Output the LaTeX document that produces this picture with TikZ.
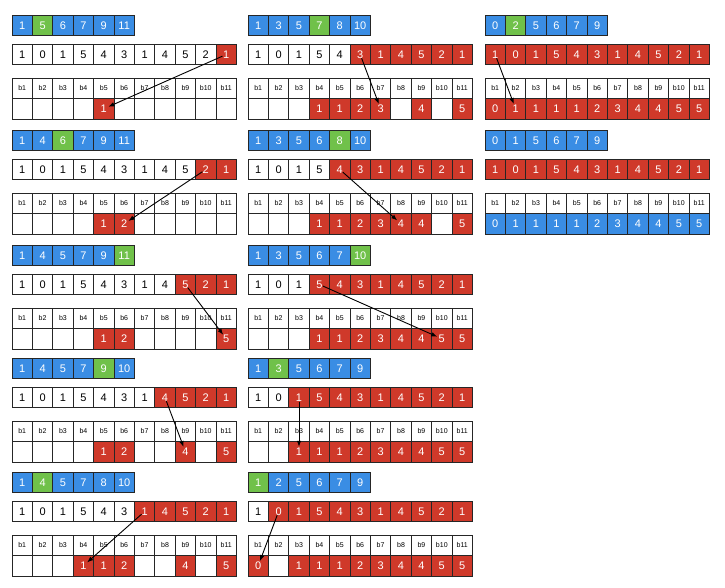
\documentclass[tikz,border=0pt]{standalone}
\usepackage{fontspec}
\setmainfont{Liberation Sans}
\usetikzlibrary{arrows.meta}

\definecolor{cellblue}{RGB}{58,141,228}
\definecolor{cellgreen}{RGB}{112,193,74}
\definecolor{cellred}{RGB}{207,57,42}

\tikzset{
  cell/.style={draw=black!85,line width=0.8pt,minimum width=20.4pt,minimum height=20.5pt,inner sep=0pt,font=\fontsize{11}{13}\selectfont},
  hcell/.style={cell,font=\fontsize{7}{8}\selectfont},
  arr/.style={-{Latex[length=6pt,width=4.5pt]},line width=0.9pt,shorten <=4pt,shorten >=5pt}
}

\def\blank{-}
% one step: index row, input row, bucket table
\newcommand\panel[8]{%
\begin{scope}[shift={(#2,#3)}]
\foreach \v [count=\i] in {#4} {
  \ifnum\i=#5 \def\topfill{cellgreen}\else\def\topfill{cellblue}\fi
  \node[cell,fill=\topfill,text=white] (#1-t\i) at ({(\i-0.5)*20.4},10.5) {\v};
}
\foreach \v [count=\i] in {1,0,1,5,4,3,1,4,5,2,1} {
  \ifnum\i<#6 \def\midfill{white}\def\midtext{black}\else\def\midfill{cellred}\def\midtext{white}\fi
  \node[cell,fill=\midfill,text=\midtext] (#1-m\i) at ({(\i-0.5)*20.4},39.5) {\v};
}
\foreach \i in {1,...,11}
  \node[hcell] (#1-h\i) at ({(\i-0.5)*20.4},73.25) {b\i};
\foreach \v [count=\i] in {#7} {
  \edef\tmp{\v}
  \ifx\tmp\blank
    \node[cell,fill=white] (#1-v\i) at ({(\i-0.5)*20.4},93.75) {};
  \else
    \node[cell,fill=#8,text=white] (#1-v\i) at ({(\i-0.5)*20.4},93.75) {\v};
  \fi
}
\end{scope}}

\begin{document}
\begin{tikzpicture}[x=1pt,y=-1pt]

\useasboundingbox (0,0) rectangle (725,588);

% left column
\panel{a1}{12}{15}{1,5,6,7,9,11}{2}{11}{-,-,-,-,1,-,-,-,-,-,-}{cellred}
\panel{a2}{12}{130}{1,4,6,7,9,11}{3}{10}{-,-,-,-,1,2,-,-,-,-,-}{cellred}
\panel{a3}{12}{245}{1,4,5,7,9,11}{6}{9}{-,-,-,-,1,2,-,-,-,-,5}{cellred}
\panel{a4}{12}{358}{1,4,5,7,9,10}{5}{8}{-,-,-,-,1,2,-,-,4,-,5}{cellred}
\panel{a5}{12}{472}{1,4,5,7,8,10}{2}{7}{-,-,-,1,1,2,-,-,4,-,5}{cellred}

% middle column
\panel{b1}{248}{15}{1,3,5,7,8,10}{4}{6}{-,-,-,1,1,2,3,-,4,-,5}{cellred}
\panel{b2}{248}{130}{1,3,5,6,8,10}{5}{5}{-,-,-,1,1,2,3,4,4,-,5}{cellred}
\panel{b3}{248}{245}{1,3,5,6,7,10}{6}{4}{-,-,-,1,1,2,3,4,4,5,5}{cellred}
\panel{b4}{248}{358}{1,3,5,6,7,9}{2}{3}{-,-,1,1,1,2,3,4,4,5,5}{cellred}
\panel{b5}{248}{472}{1,2,5,6,7,9}{1}{2}{0,-,1,1,1,2,3,4,4,5,5}{cellred}

% right column
\panel{c1}{485}{15}{0,2,5,6,7,9}{2}{1}{0,1,1,1,1,2,3,4,4,5,5}{cellred}
\panel{c2}{485}{130}{0,1,5,6,7,9}{0}{1}{0,1,1,1,1,2,3,4,4,5,5}{cellblue}

\draw[arr] (a1-m11.center) -- (a1-v5.center);
\draw[arr] (a2-m10.center) -- (a2-v6.center);
\draw[arr] (a3-m9.center) -- (a3-v11.center);
\draw[arr] (a4-m8.center) -- (a4-v9.center);
\draw[arr] (a5-m7.center) -- (a5-v4.center);

\draw[arr] (b1-m6.center) -- (b1-v7.center);
\draw[arr] (b2-m5.center) -- (b2-v8.center);
\draw[arr] (b3-m4.center) -- (b3-v10.center);
\draw[arr] (b4-m3.center) -- (b4-v3.center);
\draw[arr] (b5-m2.center) -- (b5-v1.center);

\draw[arr] (c1-m1.center) -- (c1-v2.center);

\end{tikzpicture}
\end{document}
